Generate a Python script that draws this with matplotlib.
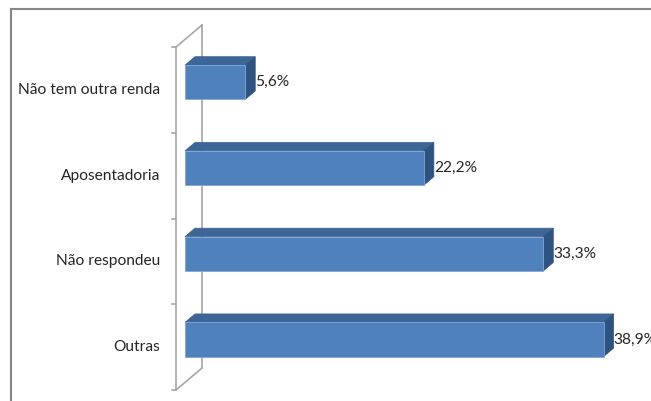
import matplotlib
matplotlib.use("Agg")
import matplotlib.pyplot as plt
from matplotlib.patches import Polygon, Rectangle
from matplotlib.lines import Line2D

categories = ["Não tem outra renda", "Aposentadoria", "Não respondeu", "Outras"]
values = [5.6, 22.2, 33.3, 38.9]

W, H, DPI = 651, 401, 100
PX = 10.76            # pixels per percentage point
CAT_PX = 343 / 4      # pixels per category slot
DEPTH_X = 26 / PX     # floor depth in value units
DEPTH_Y = 22 / CAT_PX # floor depth in category units
Z_FRONT, Z_BACK = 0.346, 0.73
HALF = 0.2

FRONT = "#4F81BD"
TOP = "#3D6596"
SIDE = "#2F5381"
WALL = "#A6A6A6"
TEXT = "#262626"
FONT = ["Lato", "DejaVu Sans"]
FS = 11.2

fig = plt.figure(figsize=(W / DPI, H / DPI), dpi=DPI)
ax = fig.add_axes([176 / W, 11 / H, 475 / W, 343 / H])
ax.set_xlim(0, 475 / PX)
ax.set_ylim(len(categories) - 0.5, -0.5)
ax.axis("off")

# wall / floor outline of the 3-D category axis
y0, y1 = -0.5, len(categories) - 0.5
ax.add_line(Line2D([0, 0], [y0, y1], color=WALL, lw=1.2, clip_on=False, zorder=1))
ax.add_line(Line2D([DEPTH_X, DEPTH_X], [y0 - DEPTH_Y, y1 - DEPTH_Y], color=WALL, lw=1.2,
                   clip_on=False, zorder=1))
for yy in (y0, y1):
    ax.add_line(Line2D([0, DEPTH_X], [yy, yy - DEPTH_Y], color=WALL, lw=1.2,
                       clip_on=False, zorder=1))
for k in range(len(categories) + 1):
    yy = k - 0.5
    ax.add_line(Line2D([-4 / PX, 0], [yy, yy], color=WALL, lw=1.2, clip_on=False, zorder=1))

xf = Z_FRONT * DEPTH_X
ddx = (Z_BACK - Z_FRONT) * DEPTH_X
ddy = (Z_BACK - Z_FRONT) * DEPTH_Y

for i, (cat, v) in enumerate(zip(categories, values)):
    yc = i - Z_FRONT * DEPTH_Y
    top_y, bot_y = yc - HALF, yc + HALF
    ax.add_patch(Polygon([(xf, top_y), (xf + v, top_y), (xf + v + ddx, top_y - ddy),
                          (xf + ddx, top_y - ddy)], closed=True, facecolor=TOP,
                         edgecolor=TOP, lw=0.5, zorder=3, clip_on=False))
    ax.add_patch(Polygon([(xf + v, top_y), (xf + v, bot_y), (xf + v + ddx, bot_y - ddy),
                          (xf + v + ddx, top_y - ddy)], closed=True, facecolor=SIDE,
                         edgecolor=SIDE, lw=0.5, zorder=3, clip_on=False))
    ax.add_patch(Rectangle((xf, top_y), v, bot_y - top_y, facecolor=FRONT,
                           edgecolor="#7FA6D6", lw=0.6, zorder=4, clip_on=False))
    ax.text(xf + v + ddx, yc, f"{v:.1f}%".replace(".", ","), ha="left", va="center",
            fontsize=FS, color=TEXT, family=FONT, zorder=5, clip_on=False)
    ax.text(-16 / PX, i, cat, ha="right", va="center", fontsize=FS, color=TEXT,
            family=FONT, clip_on=False)

# chart-area border
fig.add_artist(Line2D([11 / W, 1], [1 - 9 / H, 1 - 9 / H], transform=fig.transFigure,
                      color="#868686", lw=1.5))
fig.add_artist(Line2D([11 / W, 11 / W], [0, 1 - 9 / H], transform=fig.transFigure,
                      color="#868686", lw=1.5))

fig.savefig("out.png", dpi=DPI)
